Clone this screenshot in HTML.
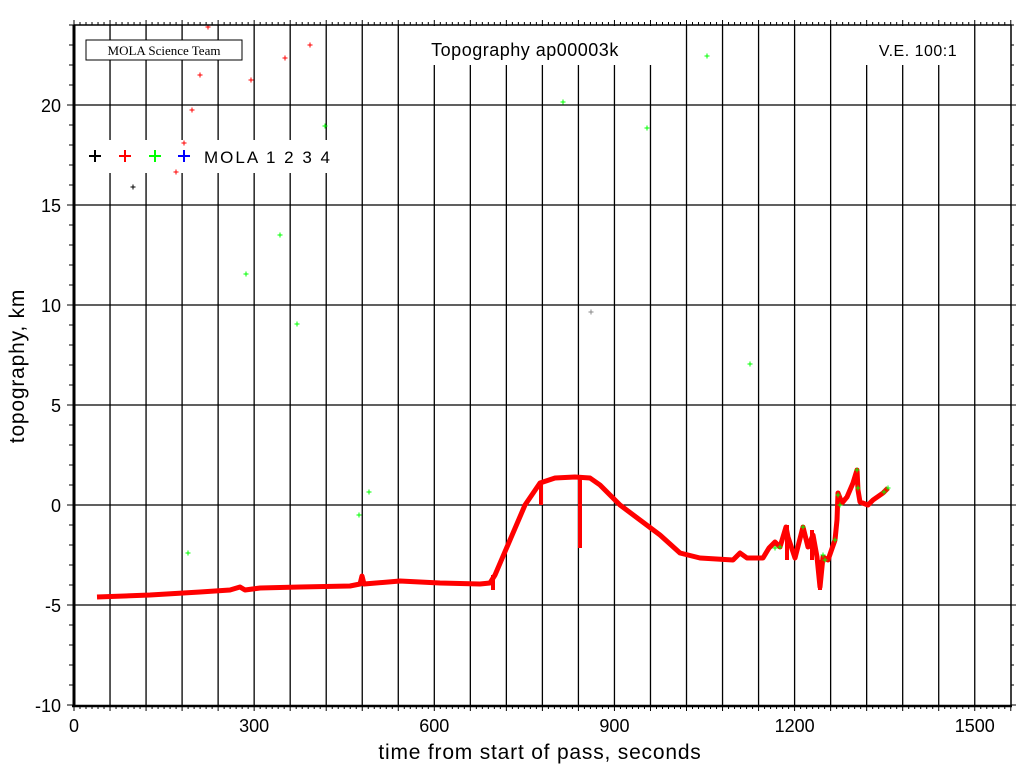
<!DOCTYPE html>
<html><head><meta charset="utf-8"><style>
html,body{margin:0;padding:0;background:#fff;width:1024px;height:768px;overflow:hidden}
svg text{font-family:"Liberation Sans",sans-serif}
</style></head><body>
<svg id="s" width="1024" height="768" viewBox="0 0 1024 768" xmlns="http://www.w3.org/2000/svg">
<rect width="1024" height="768" fill="#fff"/>
<g id="grid" stroke="#000" stroke-width="1.3"></g>
<g id="ticks" stroke="#000" stroke-width="1"></g>
<rect x="400" y="26" width="280" height="39" fill="#fff"/>
<rect x="850" y="26" width="120" height="39" fill="#fff"/>
<rect x="80" y="140" width="250" height="33" fill="#fff"/>
<rect x="86" y="40" width="156" height="20" fill="#fff" stroke="#000" stroke-width="1"/>
<text x="164" y="55" text-anchor="middle" font-size="13" style="font-family:'Liberation Serif',serif">MOLA Science Team</text>
<text x="525" y="56" text-anchor="middle" font-size="18" letter-spacing="0.5">Topography ap00003k</text>
<text x="918" y="56" text-anchor="middle" font-size="16" letter-spacing="0.5">V.E. 100:1</text>
<g stroke-width="2">
<path d="M89 156h12M95 150v12" stroke="#000"/>
<path d="M119 156h12M125 150v12" stroke="#f00"/>
<path d="M149 156h12M155 150v12" stroke="#0f0"/>
<path d="M178 156h12M184 150v12" stroke="#00f"/>
</g>
<text x="204" y="163" font-size="17" letter-spacing="2">MOLA 1 2 3 4</text>
<polyline fill="none" stroke="#f00" stroke-width="5" stroke-linejoin="round" points="97,597 150,595 200,592 230,590 240,587 245,590 260,588 300,587 350,586 360,584 362,576 364,584 400,581 440,583 480,584 490,583 495,575 510,540 525,505 540,483 555,478 575,477 590,478 600,485 620,505 640,520 660,535 680,553 700,558 733,560 740,553 747,558 763,558 769,548 775,542 780,547 786,527 788,537 795,558 803,527 808,547 813,535 817,557 820,587 823,557 828,560 835,540 837,520 838,493 842,503 847,497 853,483 857,470 858,490 860,502 868,505 873,500 883,493 888,488"/>
<path d="M580 478V548M541 483V505M493 575V590M820 560V590M787 525V560M812 530V560" stroke="#f00" stroke-width="4"/>
<g id="pts" stroke-width="1"></g>
<path d="M74 25V707" stroke="#000" stroke-width="3"/>
<path d="M72 706H1012" stroke="#000" stroke-width="2.5"/>
<path d="M74 25H1011V706" stroke="#000" stroke-width="1.5" fill="none"/>
<g font-size="18" text-anchor="end" id="ylab"></g>
<g font-size="18" text-anchor="middle" id="xlab"></g>
<text x="540" y="759" text-anchor="middle" font-size="21" letter-spacing="0.8">time from start of pass, seconds</text>
<text transform="translate(24,366) rotate(-90)" text-anchor="middle" font-size="21" letter-spacing="0.8">topography, km</text>
</svg>
<script>
var NS="http://www.w3.org/2000/svg";
function el(p,t,a,txt){var e=document.createElementNS(NS,t);for(var k in a)e.setAttribute(k,a[k]);if(txt!==undefined)e.textContent=txt;document.getElementById(p).appendChild(e);}
function X(s){return 74+s*0.6005;}
function Y(k){return 505-k*20;}
for(var s=60;s<1560;s+=60){var x=X(s);el("grid","line",{x1:x,y1:25,x2:x,y2:706});}
for(var k=-5;k<=20;k+=5){el("grid","line",{x1:74,y1:Y(k),x2:1011,y2:Y(k)});}
for(var s=0;s<=1560;s+=10){var x=X(s);var L=(s%60==0)?5:3;el("ticks","line",{x1:x,y1:706,x2:x,y2:706+L});el("ticks","line",{x1:x,y1:25,x2:x,y2:25-L});}
for(var k=-10;k<=24;k++){var y=Y(k);var L=(k%5==0)?7:5;el("ticks","line",{x1:74-L,y1:y,x2:74,y2:y});el("ticks","line",{x1:1011,y1:y,x2:1011+L-2,y2:y});}
for(var k=-10;k<=20;k+=5){el("ylab","text",{x:61,y:Y(k)+7},String(k));}
for(var s=0;s<=1500;s+=300){el("xlab","text",{x:X(s),y:732},String(s));}
var pts=[[133,187,"#000"],[176,172,"#f00"],[184,143,"#f00"],[192,110,"#f00"],[200,75,"#f00"],[208,27,"#f00"],[251,80,"#f00"],[285,58,"#f00"],[310,45,"#f00"],
[188,553,"#0f0"],[246,274,"#0f0"],[280,235,"#0f0"],[297,324,"#0f0"],[325,126,"#0f0"],[359,515,"#0f0"],[369,492,"#0f0"],[563,102,"#0f0"],[647,128,"#0f0"],[707,56,"#0f0"],[750,364,"#0f0"],[591,312,"#888"],
[775,548,"#0f0"],[780,547,"#0f0"],[803,527,"#0f0"],[838,495,"#0f0"],[840,505,"#0f0"],[835,540,"#0f0"],[825,560,"#0f0"],[857,470,"#0f0"],[858,488,"#0f0"],[884,492,"#0f0"],[888,488,"#0f0"],[823,555,"#0f0"]];
pts.forEach(function(p){el("pts","path",{d:"M"+(p[0]-2.5)+" "+p[1]+"h5M"+p[0]+" "+(p[1]-2.5)+"v5",stroke:p[2]});});
</script>
</body></html>
